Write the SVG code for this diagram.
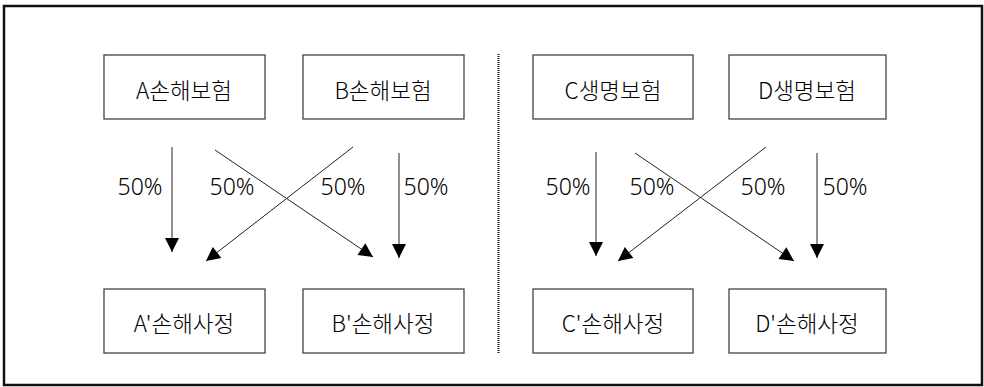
<svg xmlns="http://www.w3.org/2000/svg" width="984" height="387" viewBox="0 0 984 387">
<style>
.box{fill:#fff;stroke:#444;stroke-width:1.3}
.lbl{font-family:"Noto Sans CJK KR","Noto Sans",sans-serif;font-size:22.5px;font-weight:300;fill:#000;text-anchor:middle;dominant-baseline:central}
.pct{font-family:"Noto Sans","Noto Sans CJK KR",sans-serif;font-size:23px;font-weight:300;fill:#000;text-anchor:middle;dominant-baseline:central}
.con{stroke:#222;stroke-width:1;fill:none;marker-end:url(#ah)}
</style>
<defs>
<marker id="ah" markerUnits="userSpaceOnUse" markerWidth="16" markerHeight="16" viewBox="-15 -8 16 16" refX="0" refY="0" orient="auto">
<path d="M0,0 L-14,-7 L-14,7 Z" fill="#000"/>
</marker>
</defs>
<rect x="0" y="0" width="984" height="387" fill="#fff"/>
<rect x="4" y="6" width="978" height="379" fill="none" stroke="#111" stroke-width="2.5"/>
<line x1="498.5" y1="54" x2="498.5" y2="353" stroke="#111" stroke-width="2" stroke-dasharray="1 1"/>
<g id="nA"><rect class="box" x="104" y="55" width="161" height="64"/><text class="lbl" x="184" y="88.5">A손해보험</text></g>
<g id="nB"><rect class="box" x="303" y="55" width="161" height="64"/><text class="lbl" x="383" y="88.5">B손해보험</text></g>
<g id="nC"><rect class="box" x="533" y="55" width="160" height="64"/><text class="lbl" x="613" y="88.5">C생명보험</text></g>
<g id="nD"><rect class="box" x="729" y="55" width="157" height="64"/><text class="lbl" x="807" y="88.5">D생명보험</text></g>
<g id="nA2"><rect class="box" x="104" y="289" width="161" height="64"/><text class="lbl" x="184" y="322">A'손해사정</text></g>
<g id="nB2"><rect class="box" x="303" y="289" width="161" height="64"/><text class="lbl" x="383" y="322">B'손해사정</text></g>
<g id="nC2"><rect class="box" x="533" y="289" width="160" height="64"/><text class="lbl" x="613" y="322">C'손해사정</text></g>
<g id="nD2"><rect class="box" x="729" y="289" width="157" height="64"/><text class="lbl" x="807" y="322">D'손해사정</text></g>
<g id="connectors">
<line class="con" x1="172" y1="147" x2="172" y2="252"/>
<line class="con" x1="215" y1="150" x2="373" y2="257"/>
<line class="con" x1="353" y1="147" x2="206" y2="261"/>
<line class="con" x1="399" y1="153" x2="399" y2="258"/>
<line class="con" x1="596" y1="152" x2="596" y2="256"/>
<line class="con" x1="635" y1="153" x2="794" y2="261"/>
<line class="con" x1="766" y1="147" x2="618" y2="261"/>
<line class="con" x1="817" y1="153" x2="817" y2="258"/>
</g>
<g id="labels">
<text class="pct" x="140" y="185.5">50%</text>
<text class="pct" x="232" y="185.5">50%</text>
<text class="pct" x="343" y="185.5">50%</text>
<text class="pct" x="426" y="185.5">50%</text>
<text class="pct" x="568" y="185.5">50%</text>
<text class="pct" x="652" y="185.5">50%</text>
<text class="pct" x="763" y="185.5">50%</text>
<text class="pct" x="845" y="185.5">50%</text>
</g>
</svg>
